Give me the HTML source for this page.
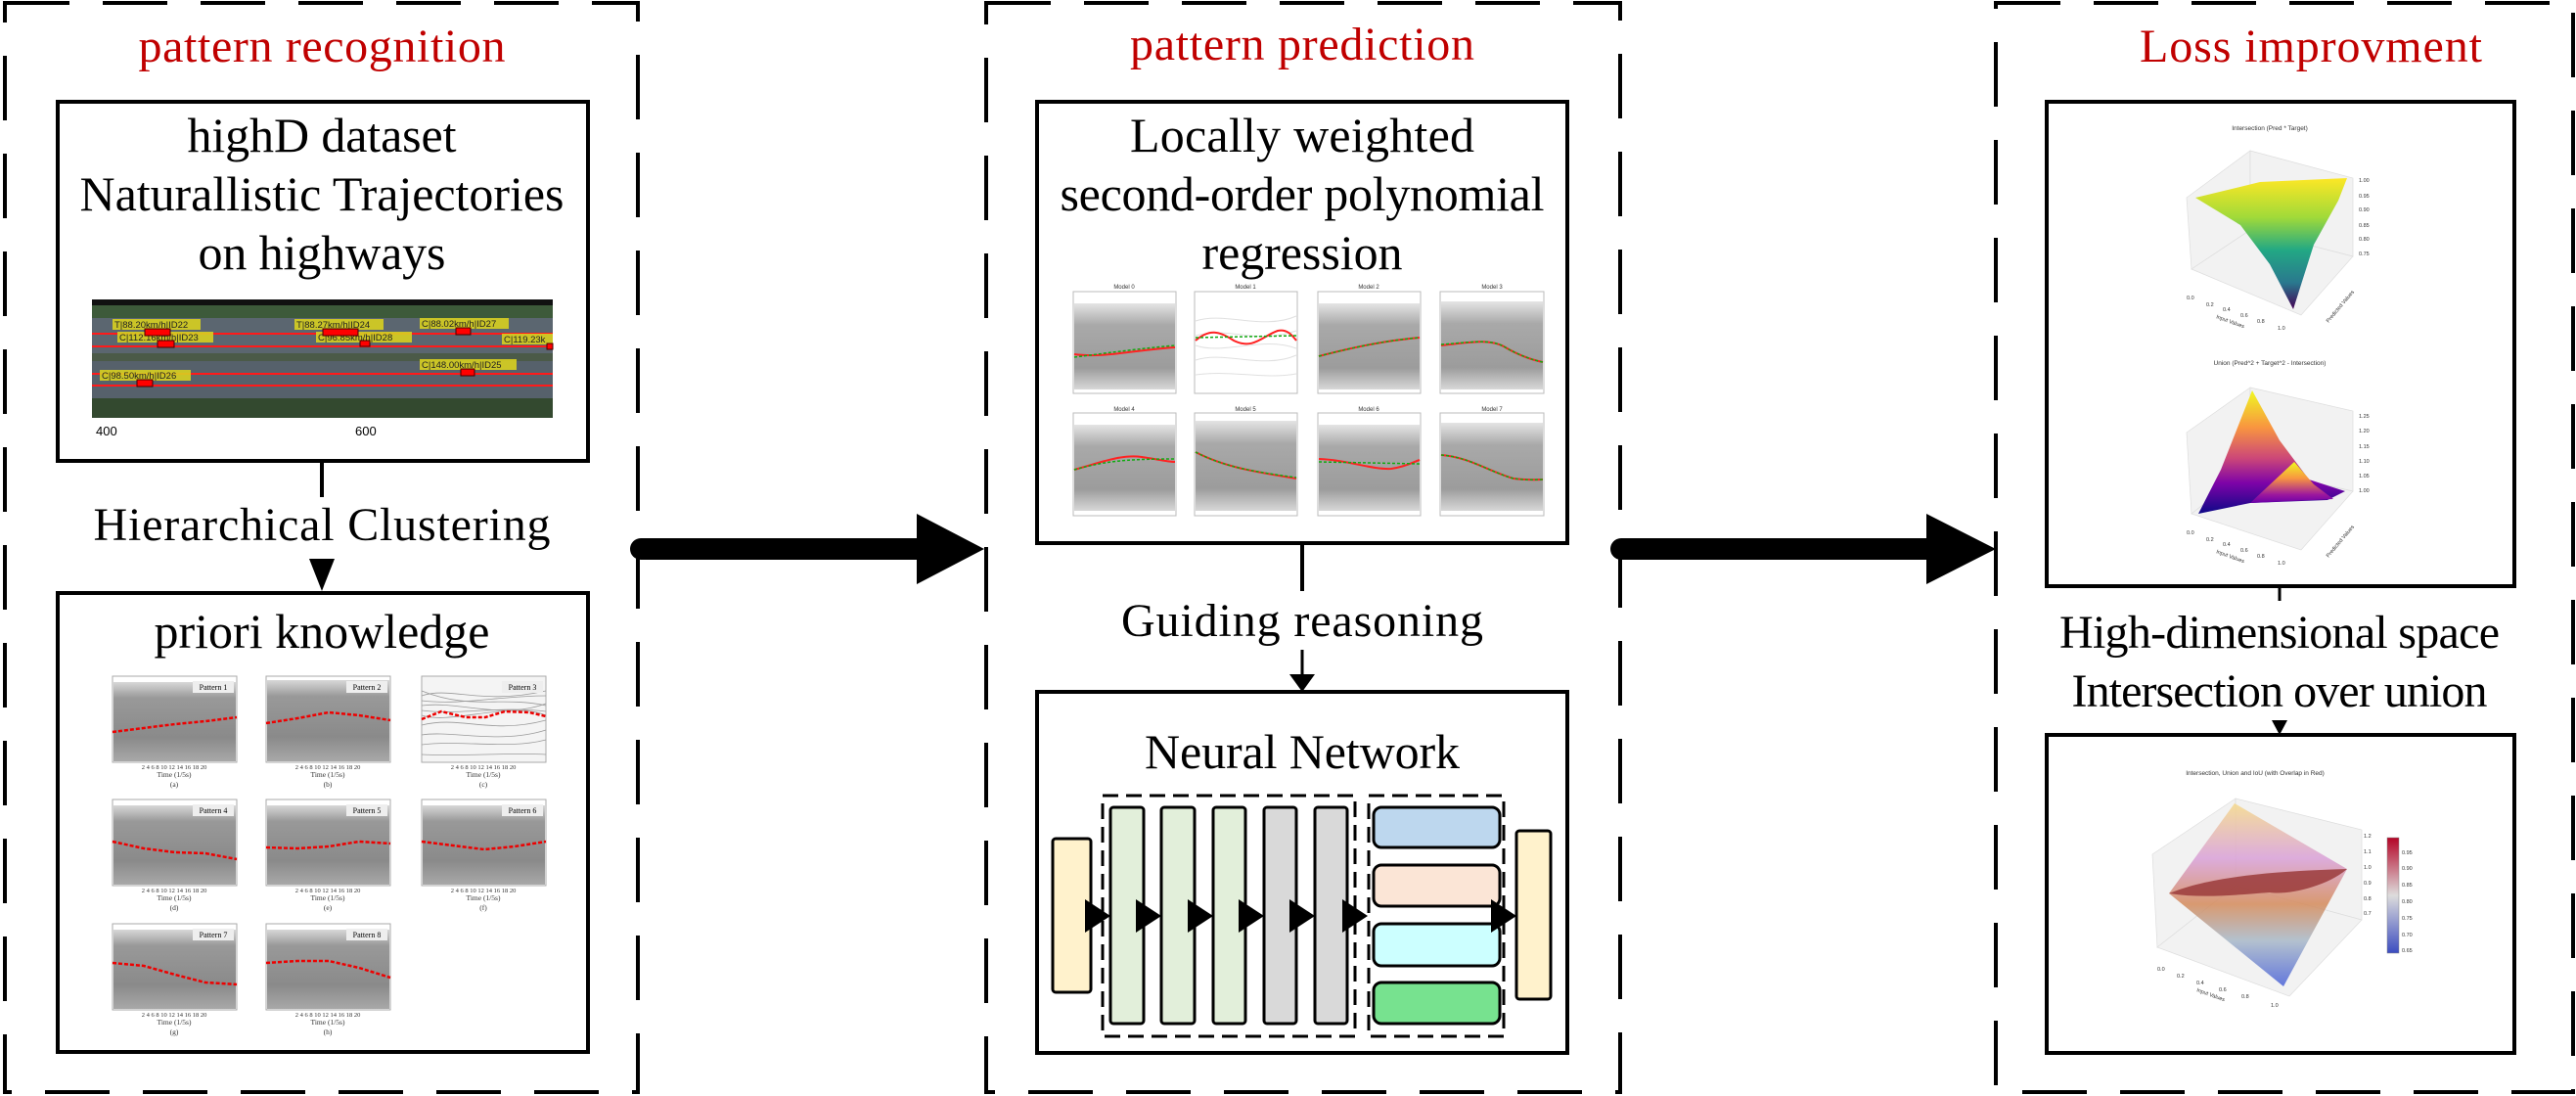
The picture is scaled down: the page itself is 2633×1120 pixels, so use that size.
<!DOCTYPE html>
<html><head><meta charset="utf-8"><style>
html,body{margin:0;padding:0;background:#fff;}
svg{display:block;}
text{font-family:"Liberation Serif","DejaVu Serif",serif;}
.s{font-family:"Liberation Sans","DejaVu Sans",sans-serif;}
</style></head><body>
<svg width="2633" height="1120" viewBox="0 0 2633 1120" xmlns="http://www.w3.org/2000/svg">
<defs>
<linearGradient id="gm" x1="0" y1="0" x2="0" y2="1">
<stop offset="0" stop-color="#d8d8d8"/><stop offset="0.2" stop-color="#999"/><stop offset="0.7" stop-color="#8a8a8a"/><stop offset="1" stop-color="#a8a8a8"/></linearGradient>
<linearGradient id="gm2" x1="0" y1="0" x2="0" y2="1">
<stop offset="0" stop-color="#e4e4e4"/><stop offset="0.25" stop-color="#a9a9a9"/><stop offset="0.75" stop-color="#9c9c9c"/><stop offset="1" stop-color="#d8d8d8"/></linearGradient>
<linearGradient id="vir" x1="0" y1="0" x2="0" y2="1">
<stop offset="0" stop-color="#fde725"/><stop offset="0.3" stop-color="#a0da39"/><stop offset="0.55" stop-color="#22a884"/><stop offset="0.8" stop-color="#2a788e"/><stop offset="1" stop-color="#440154"/></linearGradient>
<linearGradient id="pla" x1="0" y1="0" x2="0" y2="1">
<stop offset="0" stop-color="#f0f921"/><stop offset="0.3" stop-color="#f89540"/><stop offset="0.55" stop-color="#cc4778"/><stop offset="0.75" stop-color="#7e03a8"/><stop offset="1" stop-color="#0d0887"/></linearGradient>
<linearGradient id="pla2" x1="0" y1="0" x2="0" y2="1">
<stop offset="0" stop-color="#f0f921"/><stop offset="0.4" stop-color="#f89540"/><stop offset="0.8" stop-color="#9c179e"/><stop offset="1" stop-color="#6a00a8"/></linearGradient>
<linearGradient id="cw" x1="0" y1="0" x2="0" y2="1">
<stop offset="0" stop-color="#b40426"/><stop offset="0.5" stop-color="#dddcdc"/><stop offset="1" stop-color="#3b4cc0"/></linearGradient>
<linearGradient id="iou" x1="0" y1="0" x2="0" y2="1">
<stop offset="0" stop-color="#f5d98a"/><stop offset="0.3" stop-color="#d9a0d8"/><stop offset="0.55" stop-color="#d48a5a"/><stop offset="0.75" stop-color="#a8b8c8"/><stop offset="1" stop-color="#4a62d8"/></linearGradient>
</defs>

<!-- dashed panels -->
<g fill="none" stroke="#000" stroke-width="4" stroke-dasharray="66 34">
<rect x="5" y="3" width="647" height="1113"/>
<rect x="1008" y="3" width="648" height="1113"/>
<rect x="2040" y="3" width="590" height="1113"/>
</g>

<!-- titles -->
<g fill="#c00000" font-size="48" text-anchor="middle">
<text x="329" y="63" textLength="375">pattern recognition</text>
<text x="1331" y="61" textLength="352">pattern prediction</text>
<text x="2362" y="63" textLength="350">Loss improvment</text>
</g>

<!-- ===== LEFT ===== -->
<rect x="59" y="104" width="542" height="367" fill="#fff" stroke="#000" stroke-width="4"/>
<g font-size="50" text-anchor="middle">
<text x="329" y="155" textLength="275">highD dataset</text>
<text x="329" y="215" textLength="495">Naturallistic Trajectories</text>
<text x="329" y="275" textLength="253">on highways</text>
</g>
<!-- road image -->
<rect x="94" y="306" width="471" height="121" fill="#3f4a52"/>
<rect x="94" y="306" width="471" height="6" fill="#111"/>
<rect x="94" y="312" width="471" height="13" fill="#3d5a3a"/>
<rect x="94" y="325" width="471" height="36" fill="#5b6670"/>
<rect x="94" y="361" width="471" height="8" fill="#4b5a48"/>
<rect x="94" y="369" width="471" height="38" fill="#56616b"/>
<rect x="94" y="407" width="471" height="20" fill="#33492f"/>
<g stroke="#ff1a1a" stroke-width="2"><line x1="94" y1="341" x2="565" y2="341"/><line x1="94" y1="354" x2="565" y2="354"/><line x1="94" y1="382" x2="565" y2="382"/><line x1="94" y1="394" x2="565" y2="394"/></g>
<g fill="#d8d020" opacity="0.9">
<rect x="115" y="326" width="90" height="11"/><rect x="120" y="339" width="98" height="11"/><rect x="301" y="326" width="91" height="11"/><rect x="323" y="339" width="98" height="11"/><rect x="429" y="325" width="91" height="11"/><rect x="513" y="341" width="52" height="11"/><rect x="429" y="367" width="99" height="11"/><rect x="102" y="378" width="93" height="11"/></g>
<g class="s" font-size="9.5" fill="#222">
<text class="s" x="117" y="335">T|88.20km/h|ID22</text><text class="s" x="122" y="348">C|112.16km/h|ID23</text><text class="s" x="303" y="335">T|88.27km/h|ID24</text><text class="s" x="325" y="348">C|96.85km/h|ID28</text><text class="s" x="431" y="334">C|88.02km/h|ID27</text><text class="s" x="515" y="350">C|119.23k</text><text class="s" x="431" y="376">C|148.00km/h|ID25</text><text class="s" x="104" y="387">C|98.50km/h|ID26</text></g>
<g fill="#f00" stroke="#400" stroke-width="1"><rect x="148" y="336" width="26" height="7"/><rect x="161" y="348" width="17" height="7"/><rect x="330" y="336" width="36" height="7"/><rect x="368" y="348" width="10" height="6"/><rect x="466" y="335" width="15" height="7"/><rect x="559" y="351" width="6" height="6"/><rect x="471" y="377" width="14" height="7"/><rect x="140" y="388" width="16" height="7"/></g>
<text class="s" x="98" y="445" font-size="13">400</text>
<text class="s" x="363" y="445" font-size="13">600</text>

<line x1="329" y1="471" x2="329" y2="508" stroke="#000" stroke-width="4"/>
<text x="329" y="552" font-size="48" text-anchor="middle" textLength="467">Hierarchical Clustering</text>
<polygon points="316,571 342,571 329,604" fill="#000"/>

<rect x="59" y="606" width="542" height="469" fill="#fff" stroke="#000" stroke-width="4"/>
<text x="329" y="662" font-size="50" text-anchor="middle" textLength="343">priori knowledge</text>

<!-- pattern panels -->
<g id="pp">
<g transform="translate(115,691)">
<rect x="0" y="0" width="127" height="88" fill="#fff" stroke="#aaa" stroke-width="0.8"/>
<rect x="1" y="6" width="125" height="81" fill="url(#gm)"/>
</g>
</g>
<g font-size="7" fill="#333" text-anchor="middle">
</g>
<!-- panels via repeated groups -->
<g>
<g transform="translate(115,691)"><rect width="127" height="88" fill="#fff" stroke="#aaa"/><rect x="1" y="6" width="125" height="81" fill="url(#gm)"/><polyline fill="none" stroke="#e00" stroke-width="2.5" stroke-dasharray="4 2" points="0,57 32,53 64,49 95,46 127,42"/><rect x="82" y="5" width="42" height="12" fill="#eee"/><text x="103" y="14" font-size="8" text-anchor="middle">Pattern 1</text></g>
<g transform="translate(272,691)"><rect width="127" height="88" fill="#fff" stroke="#aaa"/><rect x="1" y="4" width="125" height="83" fill="url(#gm)"/><polyline fill="none" stroke="#e00" stroke-width="2.5" stroke-dasharray="4 2" points="0,48 32,43 64,37 95,40 127,45"/><rect x="82" y="5" width="42" height="12" fill="#eee"/><text x="103" y="14" font-size="8" text-anchor="middle">Pattern 2</text></g>
<g transform="translate(431,691)"><rect width="127" height="88" fill="#f4f4f4" stroke="#aaa"/><g fill="none" stroke="#9a9a9a" stroke-width="0.8"><path d="M0,20 C30,10 60,30 127,15"/><path d="M0,30 C40,25 80,45 127,28"/><path d="M0,40 C30,50 90,25 127,40"/><path d="M0,50 C40,40 70,60 127,45"/><path d="M0,60 C30,55 80,70 127,55"/><path d="M0,70 C40,65 90,75 127,65"/><path d="M0,15 C50,35 80,20 127,30"/><path d="M0,80 C40,82 90,78 127,80"/><path d="M0,35 C40,40 80,30 127,36"/><path d="M0,25 C40,30 80,20 127,20"/></g><polyline fill="none" stroke="#e00" stroke-width="2.5" stroke-dasharray="4 2" points="0,44 20,36 45,42 65,42 85,36 110,37 127,41"/><rect x="82" y="5" width="42" height="12" fill="#eee"/><text x="103" y="14" font-size="8" text-anchor="middle">Pattern 3</text></g>
<g transform="translate(115,817)"><rect width="127" height="88" fill="#fff" stroke="#aaa"/><rect x="1" y="6" width="125" height="81" fill="url(#gm)"/><polyline fill="none" stroke="#e00" stroke-width="2.5" stroke-dasharray="4 2" points="0,43 32,50 64,54 95,55 127,61"/><rect x="82" y="5" width="42" height="12" fill="#eee"/><text x="103" y="14" font-size="8" text-anchor="middle">Pattern 4</text></g>
<g transform="translate(272,817)"><rect width="127" height="88" fill="#fff" stroke="#aaa"/><rect x="1" y="6" width="125" height="81" fill="url(#gm)"/><polyline fill="none" stroke="#e00" stroke-width="2.5" stroke-dasharray="4 2" points="0,49 32,50 64,48 95,43 127,45"/><rect x="82" y="5" width="42" height="12" fill="#eee"/><text x="103" y="14" font-size="8" text-anchor="middle">Pattern 5</text></g>
<g transform="translate(431,817)"><rect width="127" height="88" fill="#fff" stroke="#aaa"/><rect x="1" y="6" width="125" height="81" fill="url(#gm)"/><polyline fill="none" stroke="#e00" stroke-width="2.5" stroke-dasharray="4 2" points="0,43 32,47 64,51 95,48 127,43"/><rect x="82" y="5" width="42" height="12" fill="#eee"/><text x="103" y="14" font-size="8" text-anchor="middle">Pattern 6</text></g>
<g transform="translate(115,944)"><rect width="127" height="88" fill="#fff" stroke="#aaa"/><rect x="1" y="6" width="125" height="81" fill="url(#gm)"/><polyline fill="none" stroke="#e00" stroke-width="2.5" stroke-dasharray="4 2" points="0,40 32,43 64,52 95,60 127,62"/><rect x="82" y="5" width="42" height="12" fill="#eee"/><text x="103" y="14" font-size="8" text-anchor="middle">Pattern 7</text></g>
<g transform="translate(272,944)"><rect width="127" height="88" fill="#fff" stroke="#aaa"/><rect x="1" y="6" width="125" height="81" fill="url(#gm)"/><polyline fill="none" stroke="#e00" stroke-width="2.5" stroke-dasharray="4 2" points="0,40 32,38 64,38 95,45 127,55"/><rect x="82" y="5" width="42" height="12" fill="#eee"/><text x="103" y="14" font-size="8" text-anchor="middle">Pattern 8</text></g>
</g>
<g font-size="7.5" fill="#333" text-anchor="middle">
<text x="178" y="794">Time (1/5s)</text><text x="178" y="804">(a)</text>
<text x="335" y="794">Time (1/5s)</text><text x="335" y="804">(b)</text>
<text x="494" y="794">Time (1/5s)</text><text x="494" y="804">(c)</text>
<text x="178" y="920">Time (1/5s)</text><text x="178" y="930">(d)</text>
<text x="335" y="920">Time (1/5s)</text><text x="335" y="930">(e)</text>
<text x="494" y="920">Time (1/5s)</text><text x="494" y="930">(f)</text>
<text x="178" y="1047">Time (1/5s)</text><text x="178" y="1057">(g)</text>
<text x="335" y="1047">Time (1/5s)</text><text x="335" y="1057">(h)</text>
<text x="178" y="786" font-size="6.5">2  4  6  8  10 12 14 16 18 20</text>
<text x="335" y="786" font-size="6.5">2  4  6  8  10 12 14 16 18 20</text>
<text x="494" y="786" font-size="6.5">2  4  6  8  10 12 14 16 18 20</text>
<text x="178" y="912" font-size="6.5">2  4  6  8  10 12 14 16 18 20</text>
<text x="335" y="912" font-size="6.5">2  4  6  8  10 12 14 16 18 20</text>
<text x="494" y="912" font-size="6.5">2  4  6  8  10 12 14 16 18 20</text>
<text x="178" y="1039" font-size="6.5">2  4  6  8  10 12 14 16 18 20</text>
<text x="335" y="1039" font-size="6.5">2  4  6  8  10 12 14 16 18 20</text>
</g>

<!-- big arrow 1 -->
<line x1="655" y1="561" x2="945" y2="561" stroke="#000" stroke-width="22" stroke-linecap="round"/>
<polygon points="937,525 1006,561 937,597" fill="#000"/>

<!-- ===== MIDDLE ===== -->
<rect x="1060" y="104" width="542" height="451" fill="#fff" stroke="#000" stroke-width="4"/>
<g font-size="50" text-anchor="middle">
<text x="1331" y="155" textLength="352">Locally weighted</text>
<text x="1331" y="215" textLength="495">second-order polynomial</text>
<text x="1331" y="275" textLength="205">regression</text>
</g>
<g>
<g transform="translate(1097,298)"><rect width="105" height="104" fill="#fff" stroke="#bbb"/><rect x="1" y="12" width="103" height="88" fill="url(#gm2)"/><path d="M1,64 C30,68 60,60 104,57" fill="none" stroke="#f22" stroke-width="2"/><path d="M1,67 C40,62 70,58 104,55" fill="none" stroke="#1a1" stroke-width="1.5" stroke-dasharray="3 2"/></g>
<g transform="translate(1221,298)"><rect width="105" height="104" fill="#fff" stroke="#bbb"/><g fill="none" stroke="#e0e0e0"><path d="M1,30 C30,20 70,40 104,25"/><path d="M1,45 C40,35 60,55 104,40"/><path d="M1,70 C30,60 70,80 104,65"/><path d="M1,85 C40,80 70,90 104,84"/><path d="M1,55 C30,65 70,45 104,58"/></g><path d="M1,50 C15,38 25,40 40,50 C60,60 70,45 85,40 C95,38 100,45 104,50" fill="none" stroke="#f22" stroke-width="2"/><line x1="1" y1="47" x2="104" y2="45" stroke="#1a1" stroke-width="1.5" stroke-dasharray="3 2"/></g>
<g transform="translate(1347,298)"><rect width="105" height="104" fill="#fff" stroke="#bbb"/><rect x="1" y="12" width="103" height="88" fill="url(#gm2)"/><path d="M1,66 C40,56 70,50 104,47" fill="none" stroke="#f22" stroke-width="2"/><path d="M1,66 C40,56 70,50 104,47" fill="none" stroke="#1a1" stroke-width="1.5" stroke-dasharray="3 2"/></g>
<g transform="translate(1472,298)"><rect width="106" height="104" fill="#fff" stroke="#bbb"/><rect x="1" y="10" width="104" height="90" fill="url(#gm2)"/><path d="M1,55 C30,52 50,48 65,56 C80,65 95,70 105,72" fill="none" stroke="#f22" stroke-width="2"/><path d="M1,54 C30,52 50,48 65,56 C80,65 95,70 105,72" fill="none" stroke="#1a1" stroke-width="1.5" stroke-dasharray="3 2"/></g>
<g transform="translate(1097,422)"><rect width="105" height="105" fill="#fff" stroke="#bbb"/><rect x="1" y="12" width="103" height="88" fill="url(#gm2)"/><path d="M1,58 C30,50 50,42 70,45 C85,47 95,50 104,50" fill="none" stroke="#f22" stroke-width="2"/><path d="M1,58 C30,50 50,47 104,47" fill="none" stroke="#1a1" stroke-width="1.5" stroke-dasharray="3 2"/></g>
<g transform="translate(1221,422)"><rect width="105" height="105" fill="#fff" stroke="#bbb"/><rect x="1" y="8" width="103" height="92" fill="url(#gm2)"/><path d="M1,40 C30,55 60,60 104,67" fill="none" stroke="#f22" stroke-width="2"/><path d="M1,40 C30,55 60,60 104,66" fill="none" stroke="#1a1" stroke-width="1.5" stroke-dasharray="3 2"/></g>
<g transform="translate(1347,422)"><rect width="105" height="105" fill="#fff" stroke="#bbb"/><rect x="1" y="12" width="103" height="88" fill="url(#gm2)"/><path d="M1,47 C30,48 55,58 75,57 C90,55 98,50 104,48" fill="none" stroke="#f22" stroke-width="2"/><line x1="1" y1="50" x2="104" y2="52" stroke="#1a1" stroke-width="1.5" stroke-dasharray="3 2"/></g>
<g transform="translate(1472,422)"><rect width="106" height="105" fill="#fff" stroke="#bbb"/><rect x="1" y="10" width="104" height="90" fill="url(#gm2)"/><path d="M1,43 C30,45 50,60 75,67 C90,69 100,68 105,68" fill="none" stroke="#f22" stroke-width="2"/><path d="M1,43 C30,45 50,60 75,67 C90,69 100,68 105,68" fill="none" stroke="#1a1" stroke-width="1.5" stroke-dasharray="3 2"/></g>
</g>
<g class="s" font-size="6" fill="#333" text-anchor="middle">
<text class="s" x="1149" y="295">Model 0</text><text class="s" x="1273" y="295">Model 1</text><text class="s" x="1399" y="295">Model 2</text><text class="s" x="1525" y="295">Model 3</text>
<text class="s" x="1149" y="420">Model 4</text><text class="s" x="1273" y="420">Model 5</text><text class="s" x="1399" y="420">Model 6</text><text class="s" x="1525" y="420">Model 7</text>
</g>

<line x1="1331" y1="555" x2="1331" y2="604" stroke="#000" stroke-width="4"/>
<text x="1331" y="650" font-size="48" text-anchor="middle" textLength="370">Guiding reasoning</text>
<line x1="1331" y1="664" x2="1331" y2="692" stroke="#000" stroke-width="3"/>
<polygon points="1318,689 1344,689 1331,707" fill="#000"/>

<rect x="1060" y="707" width="542" height="369" fill="#fff" stroke="#000" stroke-width="4"/>
<text x="1331" y="785" font-size="50" text-anchor="middle" textLength="322">Neural Network</text>
<!-- NN -->
<g stroke="#000" stroke-width="3">
<rect x="1076" y="857" width="39" height="157" rx="3" fill="#fff2cc"/>
<rect x="1135" y="825" width="34" height="221" rx="3" fill="#e2efda"/>
<rect x="1187" y="825" width="34" height="221" rx="3" fill="#e2efda"/>
<rect x="1240" y="825" width="33" height="221" rx="3" fill="#e2efda"/>
<rect x="1292" y="825" width="33" height="221" rx="3" fill="#d9d9d9"/>
<rect x="1344" y="825" width="33" height="221" rx="3" fill="#d9d9d9"/>
<rect x="1404" y="825" width="129" height="41" rx="8" fill="#bdd7ee"/>
<rect x="1404" y="884" width="129" height="42" rx="8" fill="#fbe5d6"/>
<rect x="1404" y="944" width="129" height="43" rx="8" fill="#ccffff"/>
<rect x="1404" y="1004" width="129" height="42" rx="8" fill="#77e28f"/>
<rect x="1550" y="849" width="35" height="172" rx="3" fill="#fff2cc"/>
</g>
<g fill="none" stroke="#000" stroke-width="3" stroke-dasharray="16 8">
<rect x="1127" y="813" width="258" height="246"/>
<rect x="1399" y="813" width="138" height="246"/>
</g>
<g fill="#000">
<polygon points="1109,919 1135,936 1109,953"/>
<polygon points="1161,919 1187,936 1161,953"/>
<polygon points="1214,919 1240,936 1214,953"/>
<polygon points="1266,919 1292,936 1266,953"/>
<polygon points="1318,919 1344,936 1318,953"/>
<polygon points="1372,919 1398,936 1372,953"/>
<polygon points="1524,919 1550,936 1524,953"/>
</g>

<!-- big arrow 2 -->
<line x1="1657" y1="561" x2="1975" y2="561" stroke="#000" stroke-width="22" stroke-linecap="round"/>
<polygon points="1969,525 2040,561 1969,597" fill="#000"/>

<!-- ===== RIGHT ===== -->
<rect x="2092" y="104" width="478" height="495" fill="#fff" stroke="#000" stroke-width="4"/>
<!-- plot 1 -->
<g class="s" font-size="5.5" fill="#333">
<text class="s" x="2320" y="133" text-anchor="middle" font-size="6.5">Intersection (Pred * Target)</text>
<g fill="#f2f2f2" stroke="#ddd" stroke-width="0.7">
<polygon points="2235,202 2300,154 2300,235 2240,275"/>
<polygon points="2300,154 2405,182 2405,262 2300,235"/>
<polygon points="2240,275 2300,235 2405,262 2352,322"/>
</g>
<polygon points="2244,202 2310,186 2399,182 2390,205 2365,250 2344,316 2320,270 2290,230" fill="url(#vir)"/>
<text class="s" x="2411" y="186">1.00</text><text class="s" x="2411" y="202">0.95</text><text class="s" x="2411" y="216">0.90</text><text class="s" x="2411" y="232">0.85</text><text class="s" x="2411" y="246">0.80</text><text class="s" x="2411" y="261">0.75</text>
<text class="s" x="2235" y="306">0.0</text><text class="s" x="2255" y="313">0.2</text><text class="s" x="2272" y="318">0.4</text><text class="s" x="2290" y="324">0.6</text><text class="s" x="2307" y="330">0.8</text><text class="s" x="2328" y="337">1.0</text>
<text class="s" x="2265" y="325" transform="rotate(20 2265 325)">Input Values</text>
<text class="s" x="2380" y="330" transform="rotate(-50 2380 330)">Predicted Values</text>
</g>
<!-- plot 2 -->
<g class="s" font-size="5.5" fill="#333">
<text class="s" x="2320" y="373" text-anchor="middle" font-size="6.5">Union (Pred^2 + Target^2 - Intersection)</text>
<g fill="#f2f2f2" stroke="#ddd" stroke-width="0.7">
<polygon points="2235,442 2300,396 2300,478 2240,525"/>
<polygon points="2300,396 2405,420 2405,502 2300,478"/>
<polygon points="2240,525 2300,478 2405,502 2352,562"/>
</g>
<polygon points="2302,399 2330,450 2360,490 2397,502 2379,511 2300,514 2247,525 2270,480" fill="url(#pla)"/>
<polygon points="2345,472 2365,495 2385,510 2300,514" fill="url(#pla2)"/>
<text class="s" x="2411" y="427">1.25</text><text class="s" x="2411" y="442">1.20</text><text class="s" x="2411" y="458">1.15</text><text class="s" x="2411" y="473">1.10</text><text class="s" x="2411" y="488">1.05</text><text class="s" x="2411" y="503">1.00</text>
<text class="s" x="2235" y="546">0.0</text><text class="s" x="2255" y="553">0.2</text><text class="s" x="2272" y="558">0.4</text><text class="s" x="2290" y="564">0.6</text><text class="s" x="2307" y="570">0.8</text><text class="s" x="2328" y="577">1.0</text>
<text class="s" x="2265" y="565" transform="rotate(20 2265 565)">Input Values</text>
<text class="s" x="2380" y="570" transform="rotate(-50 2380 570)">Predicted Values</text>
</g>

<line x1="2330" y1="599" x2="2330" y2="614" stroke="#000" stroke-width="3"/>
<g font-size="48" text-anchor="middle">
<text x="2330" y="662" textLength="450">High-dimensional space</text>
<text x="2330" y="722" textLength="425">Intersection over union</text>
</g>
<polygon points="2322,736 2338,736 2330,751" fill="#000"/>

<rect x="2092" y="751" width="478" height="325" fill="#fff" stroke="#000" stroke-width="4"/>
<g class="s" font-size="5.5" fill="#333">
<text class="s" x="2305" y="792" text-anchor="middle" font-size="6.5">Intersection, Union and IoU (with Overlap in Red)</text>
<g fill="#f2f2f2" stroke="#ddd" stroke-width="0.7">
<polygon points="2200,873 2285,816 2285,905 2205,968"/>
<polygon points="2285,816 2414,848 2414,940 2285,905"/>
<polygon points="2205,968 2285,905 2414,940 2340,1018"/>
</g>
<polygon points="2217,913 2284,821 2399,888 2334,1008" fill="url(#iou)" opacity="0.85"/>
<path d="M2217,913 C2260,895 2330,890 2399,888 C2380,905 2340,915 2320,912 C2280,915 2250,918 2217,913Z" fill="#9a3b3b" opacity="0.85"/>
<rect x="2440" y="856" width="12" height="118" fill="url(#cw)" stroke="#888" stroke-width="0.5"/>
<text class="s" x="2455" y="873">0.95</text><text class="s" x="2455" y="889">0.90</text><text class="s" x="2455" y="906">0.85</text><text class="s" x="2455" y="923">0.80</text><text class="s" x="2455" y="940">0.75</text><text class="s" x="2455" y="957">0.70</text><text class="s" x="2455" y="973">0.65</text>
<text class="s" x="2416" y="856">1.2</text><text class="s" x="2416" y="872">1.1</text><text class="s" x="2416" y="888">1.0</text><text class="s" x="2416" y="904">0.9</text><text class="s" x="2416" y="920">0.8</text><text class="s" x="2416" y="935">0.7</text>
<text class="s" x="2205" y="992">0.0</text><text class="s" x="2225" y="999">0.2</text><text class="s" x="2245" y="1006">0.4</text><text class="s" x="2268" y="1013">0.6</text><text class="s" x="2291" y="1020">0.8</text><text class="s" x="2321" y="1029">1.0</text>
<text class="s" x="2245" y="1013" transform="rotate(20 2245 1013)">Input Values</text>
</g>
</svg>
</body></html>
